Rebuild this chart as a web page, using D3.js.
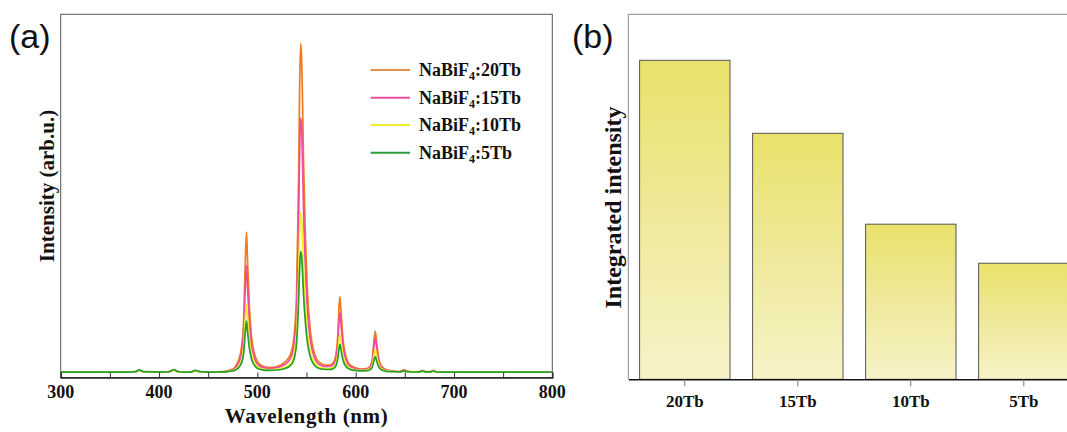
<!DOCTYPE html>
<html>
<head>
<meta charset="utf-8">
<script src="https://cdn.jsdelivr.net/npm/d3@7"></script>
<style>
  html, body { margin: 0; padding: 0; background: #fff; }
  svg { display: block; }
  .serif { font-family: "Liberation Serif", "Times New Roman", serif; font-weight: bold; fill: #111; }
  .sans { font-family: "Liberation Sans", Arial, sans-serif; fill: #111; }
</style>
</head>
<body>
<svg id="fig" width="1067" height="432"></svg>
<script>
// ---- Panel (a): emission spectra ----
const wavelengths = [300,370,376,380,384, 405,411,415,419,425, 432,437,442,450,465,
  470,475,478,481,484, 486,488,489,490,492, 494,497,500,505,512,
  520,528,533,536,538, 540,542,543,544,545, 546,547,549,551,554,
  558,563,570,575,578, 580,582,583,584,585, 587,590,595,605,612,
  615,617,619,620,621, 623,626,632,640,645, 649,653,660,665,668,
  671,676,679,682,690, 800];

const int20Tb = [1.5,1.5,1.55,2.0,1.55, 1.5,1.6,2.1,1.6,1.5, 1.5,1.9,1.55,1.5,1.6,
  1.88,2.26,3.21,4.83,8.65, 15.23,34.33,40.06,32.42,19.14, 11.5,6.62,4.42,3.18,2.78,
  3.04,4.21,6.02,8.72,13.34, 24.18,55.78,79.28,91.92,88.33, 75.69,59.45,37.8,23.38,12.59,
  6.78,4.17,3.4,3.57,4.41, 6.37,12.43,19.2,22.27,18.58, 10.97,5.89,3.31,2.34,2.53,
  3.26,5.21,11.06,12.7,10.48, 6.02,3.23,2.06,1.72,1.6, 2.1,1.7,1.55,1.6,2.0,
  1.6,1.6,2.0,1.55,1.5, 1.5];

const int15Tb = [1.5,1.5,1.55,1.95,1.55, 1.5,1.6,2.05,1.6,1.5, 1.5,1.85,1.55,1.5,1.58,
  1.79,2.08,2.8,4.03,6.93, 11.93,26.43,30.78,24.98,14.9, 9.1,5.4,3.73,2.79,2.49,
  2.7,3.6,5.0,7.09,10.67, 19.06,43.52,61.71,71.5,68.71, 58.93,46.37,29.61,18.44,10.08,
  5.58,3.57,2.99,3.12,3.79, 5.34,10.13,15.48,17.91,14.99, 8.98,4.97,2.94,2.19,2.34,
  2.96,4.61,9.51,10.88,9.02, 5.28,2.95,1.97,1.69,1.58, 2.0,1.65,1.55,1.58,1.9,
  1.58,1.58,1.9,1.55,1.5, 1.5];

const int10Tb = [1.5,1.5,1.55,1.95,1.55, 1.5,1.6,2.05,1.6,1.5, 1.5,1.85,1.55,1.5,1.56,
  1.68,1.87,2.33,3.1,4.94, 8.12,17.32,20.08,16.4,10.0, 6.32,3.97,2.91,2.31,2.12,
  2.25,2.82,3.7,5.01,7.26, 12.53,27.89,39.31,45.46,43.71, 37.57,29.68,19.15,12.14,6.89,
  4.06,2.8,2.44,2.52,2.94, 3.92,6.93,10.3,11.83,9.99, 6.21,3.69,2.41,1.94,2.05,
  2.45,3.53,6.75,7.65,6.43, 3.98,2.45,1.81,1.62,1.56, 1.85,1.6,1.52,1.55,1.8,
  1.55,1.55,1.8,1.52,1.5, 1.5];

const int5Tb = [1.5,1.5,1.6,2.1,1.6, 1.5,1.65,2.2,1.65,1.5, 1.5,1.95,1.6,1.5,1.55,
  1.64,1.78,2.13,2.71,4.1, 6.5,13.45,15.53,12.75,7.93, 5.15,3.37,2.56,2.11,1.97,
  2.07,2.49,3.16,4.15,5.84, 9.82,21.4,30.02,34.65,33.33, 28.69,22.74,14.81,9.52,5.56,
  3.43,2.48,2.2,2.26,2.57, 3.28,5.5,7.98,9.1,7.75, 4.97,3.11,2.16,1.82,1.88,
  2.17,2.9,5.12,5.74,4.9, 3.21,2.15,1.71,1.58,1.55, 1.8,1.58,1.52,1.54,1.75,
  1.54,1.54,1.75,1.52,1.5, 1.5];

const seriesNames = ["20Tb", "15Tb", "10Tb", "5Tb"];
const seriesColors = ["#F07A1E", "#EE4C9C", "#F2EE2A", "#22A02A"];
const legendColors = ["#E0904A", "#EA50A0", "#EEEE30", "#2E9A3A"];
const xTickValues = [300, 350, 400, 450, 500, 550, 600, 650, 700, 750, 800];
const xTickLabels = [300, 400, 500, 600, 700, 800];

// ---- Panel (b): integrated intensity ----
const barLabels = ["20Tb", "15Tb", "10Tb", "5Tb"];
const integrated = [87.4, 67.4, 42.5, 31.8];

const svg = d3.select("#fig");

// ===== Panel (a) =====
const A = { left: 60.7, right: 552.3, top: 14.3, bottom: 377.5 };
const xA = d3.scaleLinear().domain([300, 800]).range([A.left, A.right]);
const yA = d3.scaleLinear().domain([0, 100]).range([A.bottom, A.top]);

const gA = svg.append("g");

// frame
gA.append("rect")
  .attr("x", A.left).attr("y", A.top)
  .attr("width", A.right - A.left).attr("height", A.bottom - A.top)
  .attr("fill", "none").attr("stroke", "#555").attr("stroke-width", 1);

const allSeries = [int20Tb, int15Tb, int10Tb, int5Tb];
const line = d3.line()
  .x((d, i) => xA(wavelengths[i]))
  .y(d => yA(d))
  .curve(d3.curveMonotoneX);

gA.append("defs").append("clipPath").attr("id", "clipA")
  .append("rect").attr("x", A.left).attr("y", A.top)
  .attr("width", A.right - A.left).attr("height", A.bottom - A.top);

gA.append("g").attr("clip-path", "url(#clipA)")
  .selectAll("path").data(allSeries).join("path")
  .attr("d", d => line(d))
  .attr("fill", "none")
  .attr("stroke", (d, i) => seriesColors[i])
  .attr("stroke-width", 1.7)
  .attr("stroke-linejoin", "round");

// x axis with inward ticks
const axA = d3.axisBottom(xA).tickValues(xTickValues).tickSize(-5).tickFormat("");
const axG = gA.append("g").attr("transform", `translate(0,${A.bottom})`).call(axA);
axG.select(".domain").attr("stroke", "#222").attr("stroke-width", 1.3);
axG.selectAll(".tick line").attr("stroke", "#333");

gA.selectAll("text.xlab").data(xTickLabels).join("text")
  .attr("class", "serif xlab")
  .attr("x", d => xA(d)).attr("y", 398)
  .attr("text-anchor", "middle")
  .attr("font-size", 18)
  .text(d => d);

gA.append("text").attr("class", "serif")
  .attr("x", (A.left + A.right) / 2).attr("y", 423)
  .attr("text-anchor", "middle").attr("font-size", 21)
  .attr("letter-spacing", 0.6)
  .text("Wavelength (nm)");

gA.append("text").attr("class", "serif")
  .attr("transform", `translate(54,186) rotate(-90)`)
  .attr("text-anchor", "middle").attr("font-size", 21)
  .text("Intensity (arb.u.)");

gA.append("text").attr("class", "sans")
  .attr("x", 9).attr("y", 48).attr("font-size", 34)
  .text("(a)");

// legend
const legend = gA.append("g");
const legY = [70, 97.7, 125, 152.7];
seriesNames.forEach((name, i) => {
  legend.append("line")
    .attr("x1", 370.7).attr("x2", 410)
    .attr("y1", legY[i]).attr("y2", legY[i])
    .attr("stroke", legendColors[i]).attr("stroke-width", 2);
  const t = legend.append("text").attr("class", "serif")
    .attr("x", 419).attr("y", legY[i] + 6).attr("font-size", 18);
  t.append("tspan").text("NaBiF");
  t.append("tspan").attr("font-size", 12).attr("dy", 4).text("4");
  t.append("tspan").attr("dy", -4).text(":" + name);
});

// ===== Panel (b) =====
const B = { left: 628.3, right: 1080.3, top: 14.3, bottom: 379.3 };
const xB = d3.scaleBand().domain(barLabels).range([B.left, B.right])
  .paddingInner(0.2).paddingOuter(0.1);
const yB = d3.scaleLinear().domain([0, 100]).range([B.bottom, B.top]);

const gB = svg.append("g");
const grad = gB.append("defs").append("linearGradient")
  .attr("id", "barGrad").attr("x1", 0).attr("y1", 0).attr("x2", 0).attr("y2", 1);
grad.append("stop").attr("offset", "0%").attr("stop-color", "#E9E26A");
grad.append("stop").attr("offset", "45%").attr("stop-color", "#EEE896");
grad.append("stop").attr("offset", "100%").attr("stop-color", "#F7F3C8");

// frame (left and top)
gB.append("path")
  .attr("d", `M${B.left},${B.bottom}V${B.top}H${B.right}`)
  .attr("fill", "none").attr("stroke", "#8a8a8a").attr("stroke-width", 1);

gB.selectAll("rect.bar").data(integrated).join("rect")
  .attr("class", "bar")
  .attr("x", (d, i) => xB(barLabels[i]))
  .attr("y", d => yB(d))
  .attr("width", xB.bandwidth())
  .attr("height", d => B.bottom - yB(d))
  .attr("fill", "url(#barGrad)")
  .attr("stroke", "#555").attr("stroke-width", 1);

const axB = d3.axisBottom(xB).tickSize(7).tickSizeOuter(0).tickPadding(9);
const axBG = gB.append("g").attr("transform", `translate(0,${B.bottom})`).call(axB);
axBG.select(".domain").attr("stroke", "#111").attr("stroke-width", 1.5);
axBG.selectAll(".tick line").attr("stroke", "#777");
axBG.selectAll(".tick text")
  .attr("class", "serif")
  .attr("font-family", "Liberation Serif, Times New Roman, serif")
  .attr("font-weight", "bold")
  .attr("font-size", 17).attr("fill", "#111");

gB.append("text").attr("class", "serif")
  .attr("transform", `translate(621,207.5) rotate(-90)`)
  .attr("text-anchor", "middle").attr("font-size", 24)
  .text("Integrated intensity");

gB.append("text").attr("class", "sans")
  .attr("x", 572).attr("y", 48).attr("font-size", 34)
  .text("(b)");
</script>
</body>
</html>
